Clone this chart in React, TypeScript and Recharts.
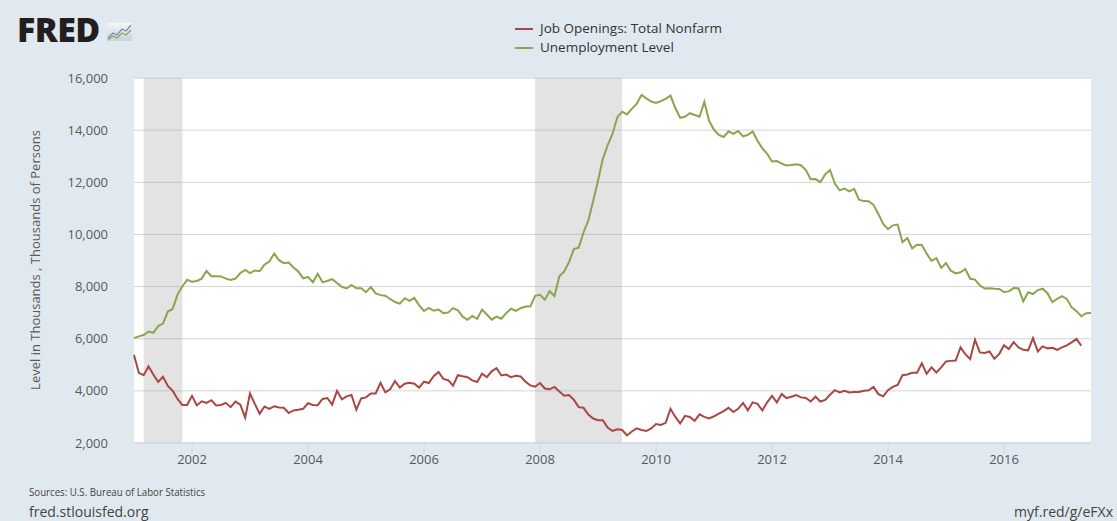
import React from 'react'
import { LineChart, Line, XAxis, YAxis, CartesianGrid, ReferenceArea } from 'recharts'

// monthly values, Jan 2001 onwards (thousands)
const START_YEAR = 2001

const JOB_OPENINGS = [
  5375, 4690, 4600, 4940, 4625, 4340, 4540, 4190, 4000, 3690, 3460, 3460,
  3810, 3440, 3600, 3540, 3640, 3440, 3460, 3540, 3375, 3590, 3475, 2975,
  3900, 3500, 3125, 3400, 3310, 3410, 3360, 3350, 3150, 3250, 3275, 3310,
  3525, 3460, 3450, 3690, 3725, 3475, 4000, 3675, 3790, 3840, 3275, 3710,
  3750, 3900, 3900, 4310, 3940, 4060, 4375, 4125, 4275, 4310, 4275, 4125,
  4350, 4300, 4560, 4725, 4460, 4410, 4200, 4600, 4560, 4525, 4400, 4340,
  4660, 4525, 4750, 4875, 4590, 4625, 4525, 4575, 4550, 4350, 4210, 4160,
  4300, 4090, 4060, 4150, 3975, 3810, 3840, 3660, 3375, 3350, 3090, 2940,
  2875, 2875, 2590, 2460, 2525, 2500, 2290, 2440, 2560, 2500, 2460, 2560,
  2725, 2690, 2775, 3310, 3000, 2750, 3040, 3000, 2850, 3100, 3000, 2940,
  3025, 3125, 3225, 3350, 3190, 3310, 3540, 3250, 3560, 3500, 3250, 3560,
  3810, 3560, 3875, 3725, 3775, 3840, 3750, 3725, 3590, 3775, 3590, 3650,
  3850, 4025, 3940, 4000, 3940, 3960, 3960, 4000, 4025, 4150, 3875, 3790,
  4025, 4150, 4225, 4600, 4625, 4690, 4690, 5060, 4650, 4900, 4705, 4900,
  5130, 5150, 5165, 5665, 5410, 5220, 5960, 5475, 5450, 5510, 5230, 5410,
  5745, 5600, 5870, 5665, 5575, 5550, 6025, 5510, 5705, 5630, 5650, 5575,
  5665, 5745, 5860, 5990, 5730,
]

const UNEMPLOYMENT = [
  6023, 6089, 6141, 6271, 6226, 6484, 6583, 7042, 7142, 7694, 8003, 8258,
  8182, 8215, 8304, 8599, 8399, 8393, 8390, 8304, 8251, 8307, 8520, 8640,
  8520, 8618, 8588, 8842, 8957, 9266, 9011, 8896, 8921, 8732, 8576, 8317,
  8370, 8167, 8491, 8170, 8212, 8286, 8136, 7990, 7927, 8061, 7932, 7934,
  7784, 7980, 7737, 7672, 7651, 7524, 7406, 7345, 7553, 7453, 7566, 7279,
  7064, 7184, 7072, 7120, 6980, 7001, 7175, 7091, 6847, 6727, 6872, 6762,
  7116, 6927, 6731, 6850, 6766, 6979, 7149, 7067, 7170, 7237, 7240, 7645,
  7685, 7497, 7822, 7637, 8395, 8575, 8937, 9438, 9494, 10074, 10538, 11286,
  12058, 12898, 13426, 13853, 14499, 14707, 14601, 14814, 15009, 15352, 15219, 15098,
  15046, 15113, 15202, 15325, 14849, 14474, 14512, 14648, 14579, 14516, 15081, 14348,
  14013, 13820, 13737, 13957, 13855, 13962, 13763, 13818, 13948, 13594, 13302, 13093,
  12797, 12813, 12713, 12646, 12660, 12692, 12656, 12471, 12115, 12124, 12005, 12298,
  12471, 11950, 11689, 11760, 11654, 11751, 11335, 11279, 11270, 11136, 10787, 10404,
  10202, 10349, 10380, 9702, 9859, 9460, 9608, 9599, 9262, 8990, 9090, 8717,
  8903, 8610, 8504, 8549, 8674, 8299, 8266, 8044, 7925, 7936, 7916, 7907,
  7791, 7815, 7940, 7933, 7436, 7783, 7715, 7866, 7918, 7745, 7409, 7529,
  7635, 7528, 7202, 7056, 6861, 6977, 6982,
]

// recessions as [start, end] month index
const RECESSIONS = [
  [2, 10],
  [83, 101],
]

const YEAR_TICKS = [2002, 2004, 2006, 2008, 2010, 2012, 2014, 2016]
const Y_TICKS = [2000, 4000, 6000, 8000, 10000, 12000, 14000, 16000]

const rows = UNEMPLOYMENT.map((u, i) => ({
  m: i,
  unemployment: u,
  jobOpenings: i < JOB_OPENINGS.length ? JOB_OPENINGS[i] : null,
}))

const RED = '#aa4643'
const GREEN = '#89a54e'
const LABEL = '#595959'

const FredLogo = () => (
  <div style={{ position: 'absolute', left: 17, top: 11, display: 'flex', alignItems: 'flex-end' }}>
    <span style={{ fontFamily: "'Open Sans', sans-serif", fontWeight: 800, fontSize: 34, letterSpacing: -0.6, color: '#231f20', lineHeight: '36px' }}>
      FRED
    </span>
    <svg width={25} height={18} style={{ marginLeft: 7, marginBottom: 6 }}>
      <defs>
        <linearGradient id="lg" x1="0" y1="0" x2="0" y2="1">
          <stop offset="0" stopColor="#f4f6f8" />
          <stop offset="1" stopColor="#c9d2da" />
        </linearGradient>
      </defs>
      <rect x={0} y={0} width={25} height={18} fill="url(#lg)" />
      <polyline points="1,15 6,10 10,12 15,6 19,8 24,2" fill="none" stroke="#6a8fb5" strokeWidth={1.2} />
      <polyline points="1,17 6,13 10,15 15,10 19,12 24,7" fill="none" stroke="#8aa65a" strokeWidth={1.2} />
    </svg>
  </div>
)

const LegendBox = () => (
  <div style={{ position: 'absolute', left: 515, top: 19, fontSize: 13.5, color: '#333', lineHeight: '19px' }}>
    {[
      { name: 'Job Openings: Total Nonfarm', color: RED },
      { name: 'Unemployment Level', color: GREEN },
    ].map(s => (
      <div key={s.name} style={{ display: 'flex', alignItems: 'center' }}>
        <span style={{ display: 'inline-block', width: 18, height: 2, background: s.color, marginRight: 7 }} />
        <span>{s.name}</span>
      </div>
    ))}
  </div>
)

export default function App() {
  return (
    <div style={{ position: 'relative', width: 1117, height: 521, background: '#e1e9f0', fontFamily: "'Open Sans', sans-serif", overflow: 'hidden' }}>
      <style>{'body{margin:0}'}</style>
      <LineChart width={1117} height={521} data={rows} margin={{ top: 78, right: 26, bottom: 48, left: 0 }}>
        <CartesianGrid vertical={false} stroke="#d4d4d4" fill="#ffffff" />
        {RECESSIONS.map(([a, b]) => (
          <ReferenceArea key={a} x1={a} x2={b} fill="#9a9a9a" fillOpacity={0.28} stroke="none" ifOverflow="hidden" />
        ))}
        <XAxis
          dataKey="m"
          type="number"
          domain={[0, UNEMPLOYMENT.length - 1]}
          ticks={YEAR_TICKS.map(y => (y - START_YEAR) * 12)}
          tickFormatter={(m: number) => String(START_YEAR + m / 12)}
          tick={{ fill: LABEL, fontSize: 13 }}
          tickLine={{ stroke: '#ccd6eb' }}
          axisLine={{ stroke: '#ccd6eb' }}
          tickSize={10}
          tickMargin={2}
          height={30}
        />
        <YAxis
          type="number"
          domain={[2000, 16000]}
          ticks={Y_TICKS}
          tickFormatter={(v: number) => v.toLocaleString('en-US')}
          tick={{ fill: LABEL, fontSize: 13 }}
          axisLine={false}
          tickLine={false}
          tickSize={0}
          tickMargin={26}
          width={134}
        />
        <Line type="linear" dataKey="jobOpenings" stroke={RED} strokeWidth={2} dot={false} isAnimationActive={false} />
        <Line type="linear" dataKey="unemployment" stroke={GREEN} strokeWidth={2} dot={false} isAnimationActive={false} />
      </LineChart>

      <div
        style={{
          position: 'absolute', left: 35, top: 260, fontSize: 13, color: LABEL, whiteSpace: 'nowrap',
          transform: 'translate(-50%, -50%) rotate(-90deg)',
        }}
      >
        Level in Thousands , Thousands of Persons
      </div>

      <FredLogo />
      <LegendBox />

      <div style={{ position: 'absolute', left: 29, top: 484, fontSize: 11, color: '#444', transform: 'scaleX(0.88)', transformOrigin: 'left', whiteSpace: 'nowrap' }}>
        Sources: U.S. Bureau of Labor Statistics
      </div>
      <div style={{ position: 'absolute', left: 29, top: 502, fontSize: 14, color: '#444', whiteSpace: 'nowrap' }}>
        fred.stlouisfed.org
      </div>
      <div style={{ position: 'absolute', right: 4, top: 502, fontSize: 14, color: '#444', whiteSpace: 'nowrap' }}>
        myf.red/g/eFXx
      </div>
    </div>
  )
}
